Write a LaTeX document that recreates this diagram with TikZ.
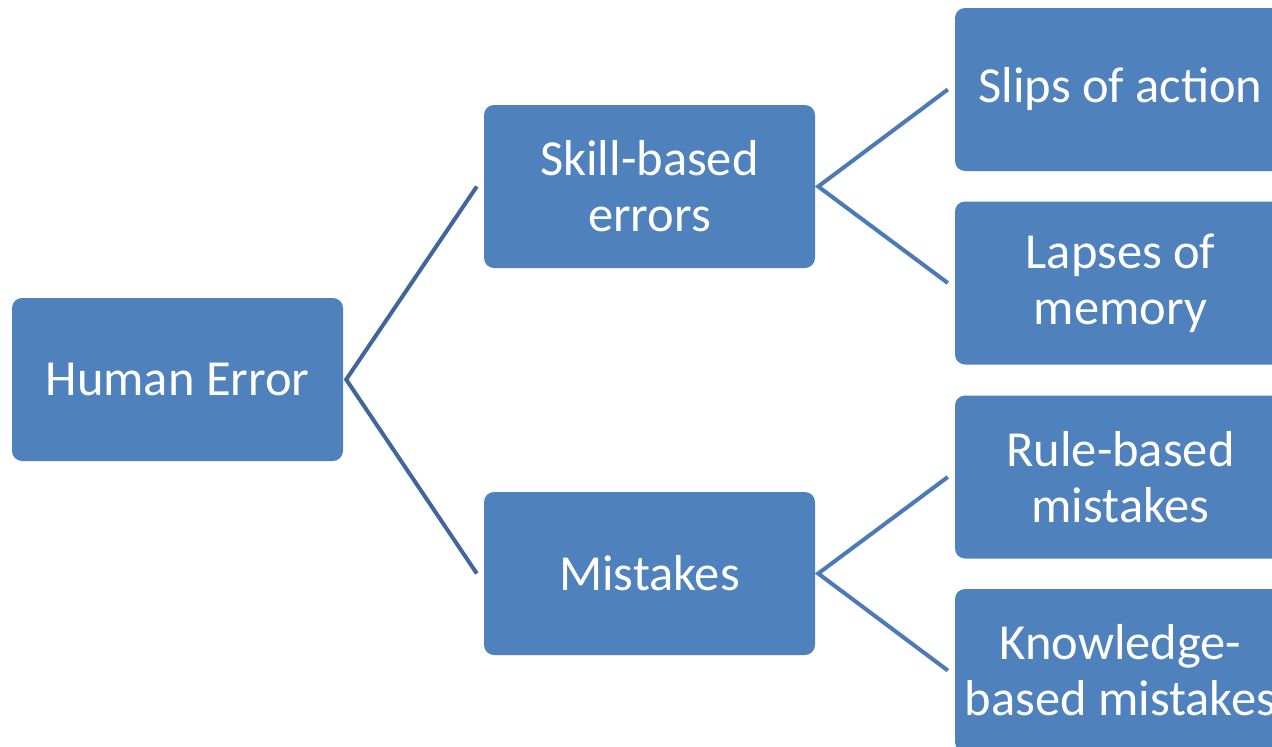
\documentclass[tikz,border=0pt]{standalone}
\usepackage{fontspec}
\setmainfont{Carlito}
\definecolor{boxblue}{HTML}{4F81BD}
\definecolor{linkdark}{HTML}{41669A}
\definecolor{linkmid}{HTML}{4A7AB8}
\begin{document}
\begin{tikzpicture}[x=1pt,y=-1pt,
  box/.style={fill=boxblue, draw=none, rounded corners=10pt, minimum width=331pt, minimum height=163pt, inner sep=0pt, text=white, align=center, font=\fontsize{50.5}{56}\selectfont},
  linkA/.style={draw=linkdark, line width=4pt},
  linkB/.style={draw=linkmid, line width=4pt}]
\useasboundingbox (0,0) rectangle (1272,747);
\clip (0,0) rectangle (1272,747);
\node[box] (he) at (177.5,379.5) {Human Error};
\node[box] (sk) at (649.5,186.5) {Skill-based\\errors};
\node[box] (mi) at (649.5,573.5) {Mistakes};
\node[box] (sl) at (1120.5,89.5) {Slips of action};
\node[box] (la) at (1120.5,283) {Lapses of\\memory};
\node[box] (ru) at (1120.5,477) {Rule-based\\mistakes};
\node[box] (kn) at (1120.5,670.5) {Knowledge-\\based mistakes};
\draw[linkA] ([xshift=-7pt]sk.west) -- ([xshift=3pt]he.east) -- ([xshift=-7pt]mi.west);
\draw[linkB] ([xshift=-7pt]sl.west) -- ([xshift=3pt]sk.east) -- ([xshift=-7pt]la.west);
\draw[linkB] ([xshift=-7pt]ru.west) -- ([xshift=3pt]mi.east) -- ([xshift=-7pt]kn.west);
\end{tikzpicture}
\end{document}
